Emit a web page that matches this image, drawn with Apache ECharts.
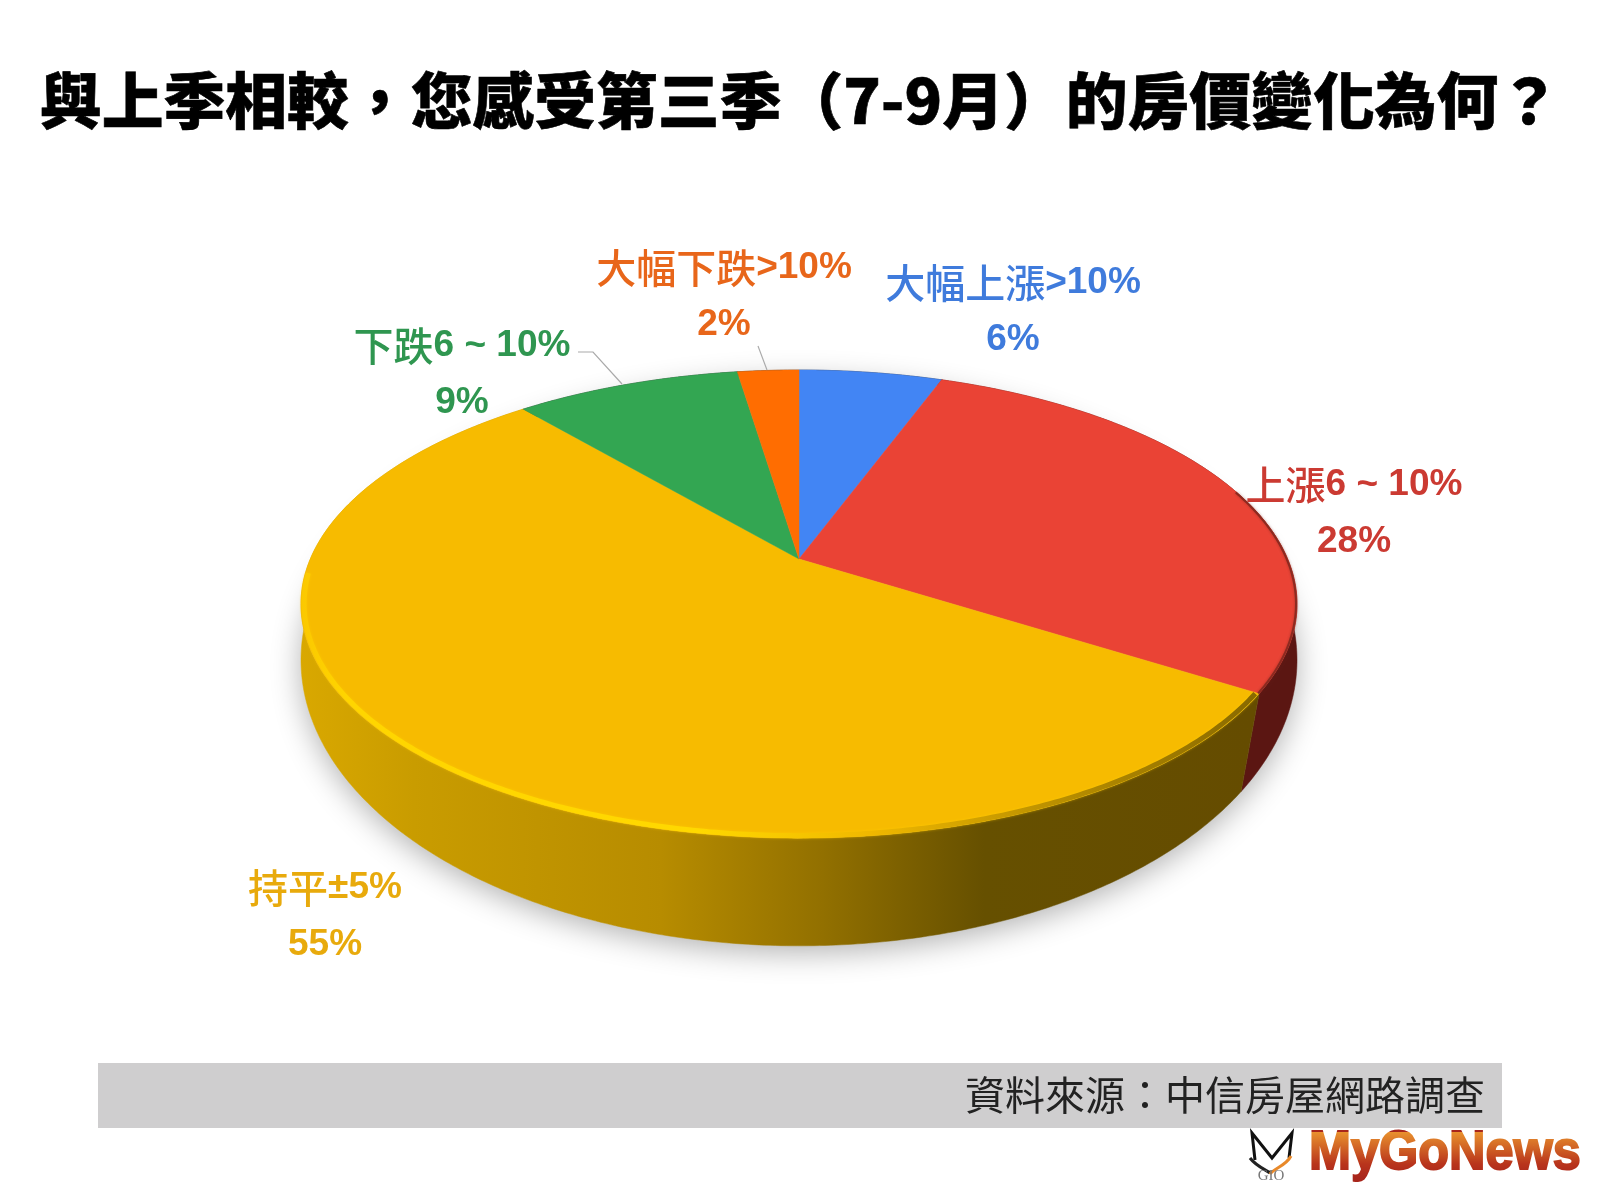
<!DOCTYPE html>
<html><head><meta charset="utf-8">
<style>html,body{margin:0;padding:0;background:#fff}#c{width:1600px;height:1200px}</style>
<script src="https://cdn.jsdelivr.net/npm/echarts@6/dist/echarts.min.js"></script>
</head><body><div id="c"></div>
<script>
const categories = ['大幅上漲>10%', '上漲6 ~ 10%', '持平±5%', '下跌6 ~ 10%', '大幅下跌>10%'];
// Slice sizes as read from the drawn wedges; the printed labels are these rounded.
const shares = [5.6, 28.4, 54.8, 8.8, 2.4];
const titleText = '與上季相較，您感受第三季（7-9月）的房價變化為何？';
const sourceText = '資料來源：中信房屋網路調查';

const topColors = ['#4285f4', '#ea4335', '#f7bb00', '#33a652', '#ff6d01'];
const labelColors = ['#3f7bdc', '#cb3a32', '#e8aa0c', '#2f9650', '#e8661a'];
const labelCenters = [[1013, 283], [1354, 485], [325, 888], [462, 346], [724, 268]];
const LINE_GAP = 57;

const CX = 799, HUB_Y = 559;
const TOP_RIM = {cy: HUB_Y, rx: 488.7, ry: 225.4, k: 0.1925};
const BOTTOM_RIM = {cy: 631.4, rx: 495.5, ry: 283, k: 0.1};

function project(rim, theta) {
  const w = 1 + rim.k * Math.cos(theta);
  return [CX + rim.rx * Math.sin(theta) / w, rim.cy - rim.ry * Math.cos(theta) / w];
}
function arc(rim, a, b) {
  const pts = [], n = Math.max(2, Math.ceil(Math.abs(b - a) / 0.01));
  for (let i = 0; i <= n; i++) pts.push(project(rim, a + (b - a) * i / n));
  return pts;
}
const total = shares.reduce((s, v) => s + v, 0);
function sliceAngles(i) {
  let before = 0;
  for (let j = 0; j < i; j++) before += shares[j];
  return [before / total * 2 * Math.PI, (before + shares[i]) / total * 2 * Math.PI];
}
const seriesData = shares.map((v, i) => ({name: categories[i], value: [v, i]}));

function richText(str) {
  return str.replace(/([^\x00-\xff]+)|([\x00-\xff]+)/g, (m, c, l) => c ? '{c|' + c + '}' : '{l|' + l + '}');
}
function textEl(str, x, y, color) {
  return {type: 'text', x: x, y: y, z2: 20, style: {
    text: richText(str), align: 'center', verticalAlign: 'middle',
    rich: {
      c: {fontFamily: '"Noto Sans CJK TC"', fontSize: 40, fontWeight: 500, fill: color, color: color},
      l: {fontFamily: '"Liberation Sans"', fontSize: 37, fontWeight: 'bold', fill: color, color: color, letterSpacing: -1}
    }
  }};
}
const wallYellow = new echarts.graphic.LinearGradient(300, 0, 1250, 0, [
  {offset: 0, color: '#d9a800'}, {offset: 0.12, color: '#c99c00'}, {offset: 0.38, color: '#b78c00'},
  {offset: 0.55, color: '#927000'}, {offset: 0.72, color: '#665000'}, {offset: 1, color: '#654c00'}
], true);
const rimYellow = new echarts.graphic.LinearGradient(300, 0, 1250, 0, [
  {offset: 0, color: '#fbc800'}, {offset: 0.05, color: '#ffd500'}, {offset: 0.42, color: '#ffd800'},
  {offset: 0.6, color: '#f0b800'}, {offset: 0.8, color: '#b88e00'}, {offset: 1, color: '#8a6a00'}
], true);

function renderWall(params, api) {
  const i = api.value(1);
  const [a, b] = sliceAngles(i);
  const pts = arc(TOP_RIM, a, b).concat(arc(BOTTOM_RIM, b, a));
  const fill = i === 2 ? wallYellow : (i === 1 ? '#5b1612' : '#333');
  const kids = [{type: 'polygon', z2: 2, shape: {points: pts}, style: {fill: fill, stroke: fill, lineWidth: 0.5}}];
  if (i === 0) {
    kids.push({type: 'polygon', z2: 1, shape: {points: arc(BOTTOM_RIM, 0, 2 * Math.PI)},
      style: {fill: '#ddd', shadowBlur: 30, shadowColor: 'rgba(0,0,0,0.3)', shadowOffsetY: 7}});
  }
  return {type: 'group', children: kids};
}
function renderTop(params, api) {
  const i = api.value(1);
  const [a, b] = sliceAngles(i);
  const rim = arc(TOP_RIM, a, b);
  const kids = [{type: 'polygon', z2: 5, shape: {points: [[CX, HUB_Y]].concat(rim)},
    style: {fill: topColors[i], stroke: topColors[i], lineWidth: 0.5}}];
  if (i === 2) {
    kids.push({type: 'polyline', z2: 6, shape: {points: arc({cy: HUB_Y, rx: TOP_RIM.rx - 3, ry: TOP_RIM.ry - 2, k: TOP_RIM.k}, a + 0.005, 1.48 * Math.PI)},
      style: {fill: 'none', stroke: rimYellow, lineWidth: 5, shadowBlur: 3, shadowColor: 'rgba(255,205,0,0.6)'}});
  }
  if (i === 1) {
    kids.push({type: 'polyline', z2: 6, shape: {points: arc({cy: HUB_Y, rx: TOP_RIM.rx - 1, ry: TOP_RIM.ry - 0.5, k: TOP_RIM.k}, a + 0.9, b)},
      style: {fill: 'none', stroke: '#8c2a20', lineWidth: 2, shadowBlur: 3, shadowColor: 'rgba(120,30,20,0.5)'}});
  }
  const c = labelCenters[i];
  kids.push(textEl(categories[i], c[0], c[1], labelColors[i]));
  kids.push(textEl(Math.round(shares[i]) + '%', c[0], c[1] + LINE_GAP, labelColors[i]));
  return {type: 'group', children: kids};
}

const chart = echarts.init(document.getElementById('c'), null, {renderer: 'canvas', width: 1600, height: 1200});
chart.setOption({
  animation: false,
  backgroundColor: '#fff',
  title: {
    text: titleText, left: 795, top: 96, textAlign: 'center', textVerticalAlign: 'middle',
    textStyle: {fontFamily: '"Noto Sans CJK TC"', fontSize: 61.8, fontWeight: 900, color: '#000',
      textBorderColor: '#000', textBorderWidth: 0.6}
  },
  series: [
    {type: 'custom', coordinateSystem: 'none', silent: true, z: 1, renderItem: renderWall, data: seriesData},
    {type: 'custom', coordinateSystem: 'none', silent: true, z: 2, renderItem: renderTop, data: seriesData}
  ],
  graphic: [
    {type: 'polyline', silent: true, z: 3, shape: {points: [[578, 352], [593, 352], [622, 384]]}, style: {fill: 'none', stroke: '#aaa', lineWidth: 1.2}},
    {type: 'polyline', silent: true, z: 3, shape: {points: [[758, 346], [767, 370]]}, style: {fill: 'none', stroke: '#aaa', lineWidth: 1.2}},
    {type: 'rect', silent: true, z: 1, shape: {x: 98, y: 1063, width: 1404, height: 65}, style: {fill: '#cfcecf'}},
    {type: 'text', silent: true, z: 3, x: 1485, y: 1095, style: {text: sourceText, align: 'right', verticalAlign: 'middle',
      font: '400 40px "Noto Sans CJK TC"', fill: '#222'}},
    {type: 'text', silent: true, z: 3, x: 1309, y: 1154, scaleX: 0.9,
      style: {text: 'MyGoNews', align: 'left', verticalAlign: 'middle',
      font: 'bold 56px "Liberation Sans"', stroke: '#a8261c', lineWidth: 2, fill: '#a8261c'}},
    {type: 'rect', silent: true, z: 4, shape: {x: 1305, y: 1132, width: 285, height: 46},
      style: {blend: 'screen', fill: new echarts.graphic.LinearGradient(0, 0, 0, 1, [{offset: 0, color: '#bd7e14'}, {offset: 0.7, color: '#301000'}, {offset: 1, color: '#000'}])}},
    {type: 'polyline', silent: true, z: 3, shape: {points: [[1255, 1160], [1252, 1133], [1272, 1158], [1292, 1133], [1289, 1158]]}, style: {fill: 'none', stroke: '#111', lineWidth: 3}},
    {type: 'bezierCurve', silent: true, z: 3, shape: {x1: 1250, y1: 1158, x2: 1270, y2: 1173, cpx1: 1256, cpy1: 1166, cpx2: 1266, cpy2: 1170}, style: {fill: 'none', stroke: '#222', lineWidth: 3}},
    {type: 'bezierCurve', silent: true, z: 3, shape: {x1: 1291, y1: 1156, x2: 1270, y2: 1174, cpx1: 1286, cpy1: 1166, cpx2: 1274, cpy2: 1168}, style: {fill: 'none', stroke: '#e8892a', lineWidth: 3}},
    {type: 'text', silent: true, z: 3, x: 1271, y: 1176, style: {text: 'GIO', align: 'center', verticalAlign: 'middle', font: '15px "Liberation Serif"', fill: '#777'}}
  ]
});
</script></body></html>
